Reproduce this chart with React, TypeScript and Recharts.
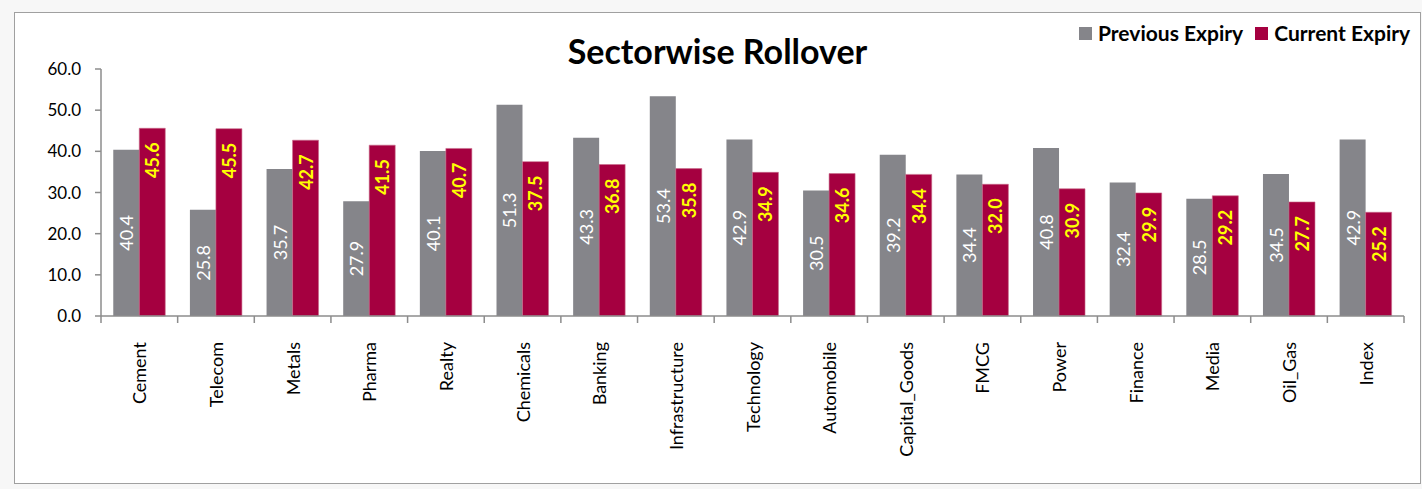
import React from 'react'
import { BarChart, Bar, XAxis, YAxis, LabelList } from 'recharts'

const sectors = [
  'Cement', 'Telecom', 'Metals', 'Pharma', 'Realty', 'Chemicals', 'Banking', 'Infrastructure',
  'Technology', 'Automobile', 'Capital_Goods', 'FMCG', 'Power', 'Finance', 'Media', 'Oil_Gas', 'Index',
]
const previousExpiry = [40.4, 25.8, 35.7, 27.9, 40.1, 51.3, 43.3, 53.4, 42.9, 30.5, 39.2, 34.4, 40.8, 32.4, 28.5, 34.5, 42.9]
const currentExpiry = [45.6, 45.5, 42.7, 41.5, 40.7, 37.5, 36.8, 35.8, 34.9, 34.6, 34.4, 32.0, 30.9, 29.9, 29.2, 27.7, 25.2]
const yTicks = [0, 10, 20, 30, 40, 50, 60]

const GRAY = '#85858a'
const RED = '#a50040'
const AXIS = '#8c8c8c'
const FONT = 'Lato, "Liberation Sans", sans-serif'

const data = sectors.map((name, i) => ({
  name,
  prev: previousExpiry[i],
  curr: currentExpiry[i],
  slot: i + 0.5,
}))

// tick marks sit between categories, like the Excel original
const boundaries = sectors.map((_, i) => i).concat(sectors.length)

const EmptyTick = () => <g />

const GrayLabel = (props: any) => {
  const { x, y, width, height, value } = props
  const cx = Number(x) + Number(width) / 2
  const cy = Number(y) + Number(height) / 2
  return (
    <text x={cx} y={cy} transform={`rotate(-90 ${cx} ${cy})`} textAnchor="middle" dominantBaseline="central"
      fill="#ffffff" fontSize={18} fontFamily={FONT}>
      {Number(value).toFixed(1)}
    </text>
  )
}

const RedLabel = (props: any) => {
  const { x, y, width, value } = props
  const cx = Number(x) + Number(width) / 2
  const cy = Number(y) + 14
  return (
    <text x={cx} y={cy} transform={`rotate(-90 ${cx} ${cy})`} textAnchor="end" dominantBaseline="central"
      fill="#000" fontSize={18} fontWeight="bold" fontFamily={FONT} style={{ fill: '#ffff00' }}>
      {Number(value).toFixed(1)}
    </text>
  )
}

const SectorTick = (props: any) => {
  const { x, y, payload } = props
  const ty = Number(y) + 17
  return (
    <text x={x} y={ty} transform={`rotate(-90 ${x} ${ty})`} textAnchor="end" dominantBaseline="central"
      fill="#000" fontSize={18} fontFamily={FONT}>
      {payload.value}
    </text>
  )
}

const swatch = (color: string) => (
  <span style={{ width: 13, height: 13, background: color, display: 'inline-block', marginRight: 6 }} />
)

export default function App() {
  return (
    <div style={{ position: 'absolute', left: 0, top: 0, width: 1422, height: 489, background: '#f7f7f7' }}>
      <div style={{ position: 'absolute', left: 14, top: 12, width: 1405, height: 470, background: '#fff', border: '1px solid #a0a0a0' }}>
        <div style={{ position: 'absolute', left: 0, top: 16, width: 1405, textAlign: 'center', fontFamily: FONT, fontWeight: 'bold', fontSize: 34, lineHeight: '44px', color: '#000' }}>
          Sectorwise Rollover
        </div>
        <div style={{ position: 'absolute', left: 1064, top: 6, display: 'flex', alignItems: 'center', fontFamily: FONT, fontWeight: 'bold', fontSize: 21, lineHeight: '28px', color: '#000', whiteSpace: 'nowrap' }}>
          {swatch(GRAY)}
          <span style={{ marginRight: 12 }}>Previous Expiry</span>
          {swatch(RED)}
          <span>Current Expiry</span>
        </div>
        <BarChart width={1405} height={470} data={data} margin={{ top: 56, right: 16, left: 0, bottom: 0 }}
          barCategoryGap="16%" barGap={0}>
          <XAxis xAxisId="a-bounds" type="number" dataKey="slot" domain={[0, sectors.length]} ticks={boundaries}
            interval={0} height={1} tick={<EmptyTick />} tickLine={{ stroke: AXIS, strokeWidth: 1.5 }} tickSize={7}
            stroke={AXIS} strokeWidth={1.5} allowDataOverflow />
          <XAxis xAxisId="b-names" dataKey="name" interval={0} height={166} axisLine={false} tickLine={false} tick={<SectorTick />} />
          <YAxis domain={[0, 60]} ticks={yTicks} width={86} tickFormatter={(v: number) => v.toFixed(1)}
            stroke={AXIS} strokeWidth={1.5} tick={{ fill: '#000', fontSize: 17, fontFamily: FONT }} tickSize={6} tickMargin={14} />
          <Bar xAxisId="b-names" dataKey="prev" fill={GRAY} isAnimationActive={false}>
            <LabelList dataKey="prev" content={<GrayLabel />} />
          </Bar>
          <Bar xAxisId="b-names" dataKey="curr" fill={RED} stroke="#c96b8c" strokeWidth={0.6} isAnimationActive={false}>
            <LabelList dataKey="curr" content={<RedLabel />} />
          </Bar>
        </BarChart>
      </div>
    </div>
  )
}
